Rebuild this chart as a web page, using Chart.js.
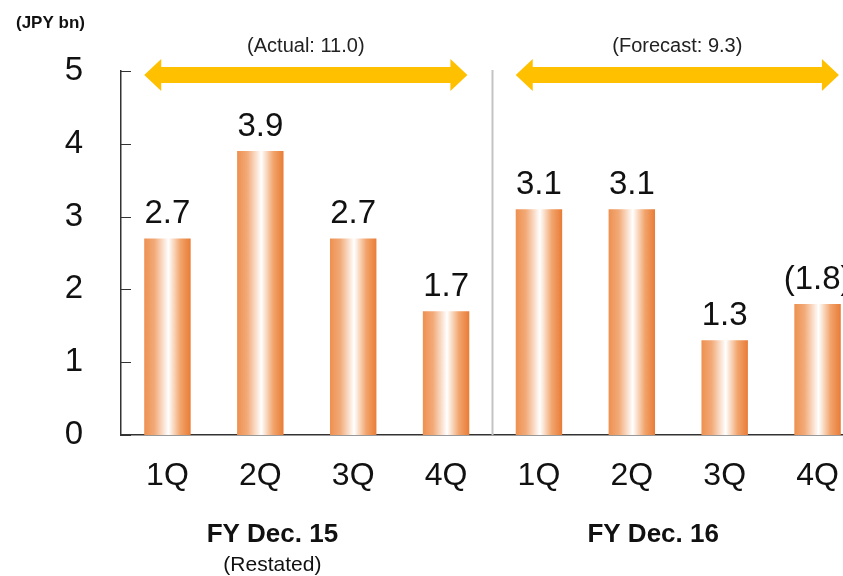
<!DOCTYPE html>
<html>
<head>
<meta charset="utf-8">
<script src="https://cdn.jsdelivr.net/npm/chart.js@4"></script>
<style>
html,body{margin:0;padding:0;background:#fff;overflow:hidden;}
#wrap{position:relative;width:864px;height:576px;}
</style>
</head>
<body>
<div id="wrap"><canvas id="c" width="864" height="576"></canvas></div>
<script>
const categories = ["1Q","2Q","3Q","4Q","1Q","2Q","3Q","4Q"];
const values = [2.7, 3.9, 2.7, 1.7, 3.1, 3.1, 1.3, 1.8];
const valueLabels = ["2.7","3.9","2.7","1.7","3.1","3.1","1.3","(1.8)"];
const yTicks = [0,1,2,3,4,5];
const groupNames = ["FY Dec. 15","FY Dec. 16"];
const groupNotes = ["(Restated)",""];
const groupTotals = ["(Actual: 11.0)","(Forecast: 9.3)"];
const unitLabel = "(JPY bn)";

const FONT = "'Liberation Sans', Arial, sans-serif";

function barGradient(ctx){
  if (ctx.type !== 'data') return '#EE8A45';
  const chart = ctx.chart;
  const xs = chart.scales.x;
  if (!xs || !chart.chartArea) return '#EE8A45';
  const cx = xs.getPixelForValue(ctx.dataIndex);
  const w = xs.width / categories.length * 0.5;
  const g = chart.ctx.createLinearGradient(cx - w/2, 0, cx + w/2, 0);
  g.addColorStop(0, '#EE9050');
  g.addColorStop(0.22, '#F2AA78');
  g.addColorStop(0.52, '#FFFFFF');
  g.addColorStop(0.78, '#F2A46C');
  g.addColorStop(1, '#E87C36');
  return g;
}

const decor = {
  id: 'decor',
  beforeDatasetsDraw(chart){
    const {ctx, chartArea, scales} = chart;
    const xs = scales.x, ys = scales.y;
    ctx.save();
    // divider
    const dx = xs.getPixelForValue(3.5);
    ctx.strokeStyle = '#C4C4C4';
    ctx.lineWidth = 2;
    ctx.beginPath();
    ctx.moveTo(dx, ys.getPixelForValue(5) - 1);
    ctx.lineTo(dx, chartArea.bottom);
    ctx.stroke();
    // inward y ticks
    ctx.strokeStyle = '#333';
    ctx.lineWidth = 1;
    yTicks.forEach(v => {
      const y = Math.round(ys.getPixelForValue(v)) + 0.5;
      ctx.beginPath();
      ctx.moveTo(chartArea.left, y);
      ctx.lineTo(chartArea.left + 10, y);
      ctx.stroke();
    });
    ctx.restore();
  },
  afterDatasetsDraw(chart){
    const {ctx, chartArea, scales} = chart;
    const xs = scales.x, ys = scales.y;
    ctx.save();
    // value labels
    const meta = chart.getDatasetMeta(0);
    ctx.fillStyle = '#111';
    ctx.font = '33px ' + FONT;
    ctx.textAlign = 'center';
    ctx.textBaseline = 'alphabetic';
    meta.data.forEach((bar, i) => {
      ctx.fillText(valueLabels[i], bar.x, bar.y - 15);
    });
    // arrows
    const ay = ys.getPixelForValue(5) + 4;
    const ranges = [[-0.25, 3.23], [3.75, 7.23]];
    ranges.forEach((r, gi) => {
      const x1 = xs.getPixelForValue(r[0]);
      const x2 = xs.getPixelForValue(r[1]);
      const sh = 8, hh = 16, hl = 17;
      ctx.fillStyle = '#FFC000';
      ctx.beginPath();
      ctx.moveTo(x1, ay);
      ctx.lineTo(x1 + hl, ay - hh);
      ctx.lineTo(x1 + hl, ay - sh);
      ctx.lineTo(x2 - hl, ay - sh);
      ctx.lineTo(x2 - hl, ay - hh);
      ctx.lineTo(x2, ay);
      ctx.lineTo(x2 - hl, ay + hh);
      ctx.lineTo(x2 - hl, ay + sh);
      ctx.lineTo(x1 + hl, ay + sh);
      ctx.lineTo(x1 + hl, ay + hh);
      ctx.closePath();
      ctx.fill();
      ctx.fillStyle = '#222';
      ctx.font = '20px ' + FONT;
      ctx.textAlign = 'center';
      ctx.textBaseline = 'middle';
      ctx.fillText(groupTotals[gi], (x1 + x2) / 2, ay - 29);
    });
    // group names
    const gpos = [1.13, 5.23];
    gpos.forEach((p, gi) => {
      const gx = xs.getPixelForValue(p);
      ctx.fillStyle = '#111';
      ctx.font = 'bold 26px ' + FONT;
      ctx.textAlign = 'center';
      ctx.textBaseline = 'middle';
      ctx.fillText(groupNames[gi], gx, chartArea.bottom + 100);
      if (groupNotes[gi]) {
        ctx.font = '21px ' + FONT;
        ctx.fillText(groupNotes[gi], gx, chartArea.bottom + 130);
      }
    });
    // unit label
    ctx.fillStyle = '#111';
    ctx.font = 'bold 17px ' + FONT;
    ctx.textAlign = 'left';
    ctx.textBaseline = 'middle';
    ctx.fillText(unitLabel, 16, 23);
    ctx.restore();
  }
};

new Chart(document.getElementById('c'), {
  type: 'bar',
  data: {
    labels: categories,
    datasets: [{
      data: values,
      backgroundColor: barGradient,
      borderWidth: 0,
      barPercentage: 0.5,
      categoryPercentage: 1.0
    }]
  },
  options: {
    responsive: false,
    animation: false,
    events: [],
    layout: { padding: { top: 71, right: 0, left: 0, bottom: 0 } },
    plugins: { legend: { display: false }, tooltip: { enabled: false } },
    scales: {
      x: {
        offset: true,
        grid: { display: false, drawTicks: false },
        border: { display: true, color: '#333', width: 1.5 },
        ticks: {
          color: '#111',
          font: { family: FONT, size: 32 },
          padding: 22,
          maxRotation: 0,
          autoSkip: false
        },
        afterFit(scale){ scale.height = 141; }
      },
      y: {
        min: 0, max: 5,
        grid: { display: false, drawTicks: false },
        border: { display: true, color: '#333', width: 1.5 },
        ticks: {
          stepSize: 1,
          color: '#111',
          font: { family: FONT, size: 33 },
          padding: 38
        },
        afterFit(scale){ scale.width = 121; }
      }
    }
  },
  plugins: [decor]
});
</script>
</body>
</html>
